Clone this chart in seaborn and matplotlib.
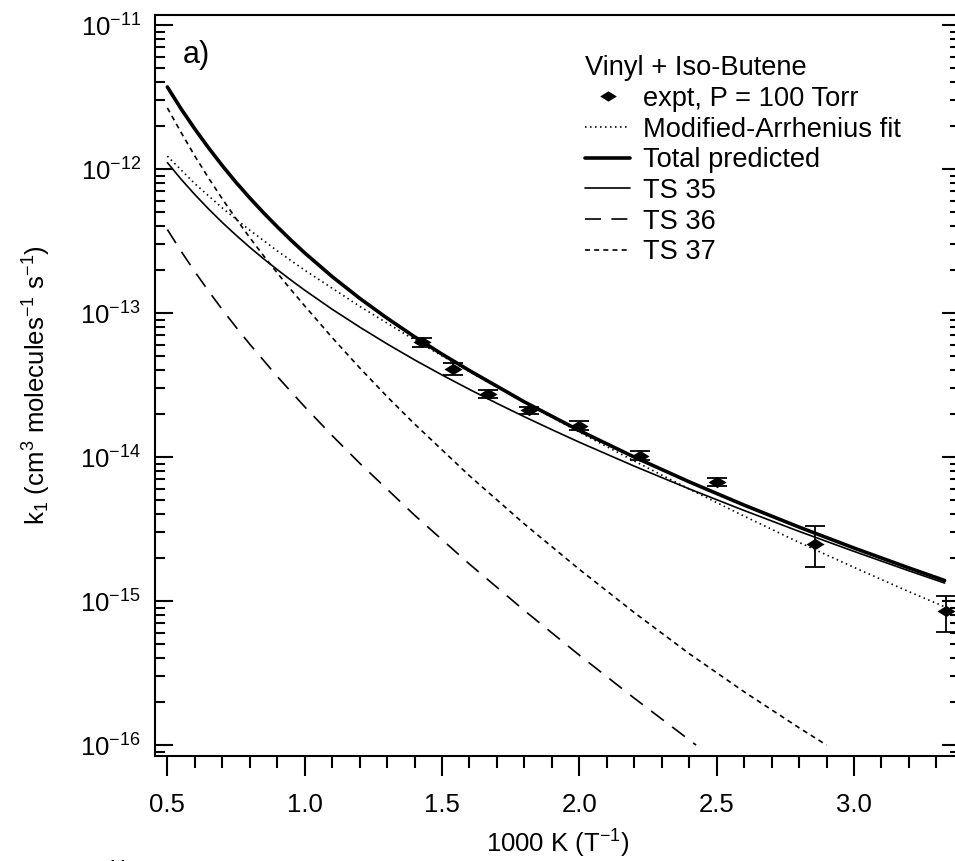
import numpy as np
import pandas as pd
import matplotlib
matplotlib.use("Agg")
import matplotlib.pyplot as plt
import seaborn as sns
from matplotlib.lines import Line2D
from matplotlib.ticker import (LogLocator, MultipleLocator, NullFormatter,
                               FormatStrFormatter)

# ---------------- data ----------------
x_total = [0.5, 0.55, 0.6, 0.65, 0.7, 0.75, 0.8, 0.85, 0.9, 0.95, 1.0, 1.1,
           1.2, 1.3, 1.4, 1.5, 1.6, 1.8, 2.0, 2.2, 2.4, 2.6, 2.8, 3.0, 3.2, 3.33]
k_total = [3.715e-12, 2.620e-12, 1.899e-12, 1.404e-12, 1.057e-12, 8.088e-13,
           6.304e-13, 4.977e-13, 3.978e-13, 3.211e-13, 2.618e-13, 1.792e-13,
           1.267e-13, 9.222e-14, 6.847e-14, 5.186e-14, 3.988e-14, 2.416e-14,
           1.528e-14, 1.000e-14, 6.731e-15, 4.639e-15, 3.264e-15, 2.336e-15,
           1.698e-15, 1.390e-15]

x_ts35 = [0.5, 0.55, 0.6, 0.65, 0.7, 0.75, 0.8, 0.85, 0.9, 0.95, 1.0, 1.1,
          1.2, 1.3, 1.4, 1.5, 1.6, 1.7, 1.8, 1.9, 2.0, 2.2, 2.4, 2.6, 2.8,
          3.0, 3.2, 3.33]
k_ts35 = [1.109e-12, 8.505e-13, 6.653e-13, 5.285e-13, 4.256e-13, 3.476e-13,
          2.864e-13, 2.387e-13, 2.004e-13, 1.694e-13, 1.442e-13, 1.063e-13,
          7.998e-14, 6.109e-14, 4.732e-14, 3.717e-14, 2.951e-14, 2.360e-14,
          1.905e-14, 1.550e-14, 1.268e-14, 8.650e-15, 6.012e-15, 4.256e-15,
          3.048e-15, 2.213e-15, 1.622e-15, 1.334e-15]

x_fit = [0.5, 0.6, 0.7, 0.8, 0.9, 1.0, 1.2, 1.4, 1.6, 1.8, 2.0, 2.2, 2.4,
         2.6, 2.8, 3.0, 3.2, 3.33]
k_fit = [1.230e-12, 7.922e-13, 5.370e-13, 3.764e-13, 2.705e-13, 1.986e-13,
         1.115e-13, 6.513e-14, 3.916e-14, 2.396e-14, 1.489e-14, 9.386e-15,
         5.998e-15, 3.890e-15, 2.555e-15, 1.714e-15, 1.162e-15, 9.129e-16]

x_ts36 = [0.5, 0.55, 0.6, 0.65, 0.7, 0.75, 0.8, 0.9, 1.0, 1.1, 1.2, 1.4,
          1.6, 1.8, 2.0, 2.2, 2.425]
k_ts36 = [3.802e-13, 2.687e-13, 1.939e-13, 1.422e-13, 1.058e-13, 7.980e-14,
          6.081e-14, 3.631e-14, 2.235e-14, 1.410e-14, 9.074e-15, 3.948e-15,
          1.806e-15, 8.594e-16, 4.211e-16, 2.116e-16, 1.000e-16]

x_ts37 = [0.5, 0.55, 0.6, 0.65, 0.7, 0.75, 0.8, 0.85, 0.9, 0.95, 1.0, 1.1,
          1.2, 1.3, 1.4, 1.6, 1.8, 2.0, 2.2, 2.4, 2.6, 2.8, 2.9]
k_ts37 = [2.661e-12, 1.797e-12, 1.233e-12, 8.670e-13, 6.209e-13, 4.526e-13,
          3.342e-13, 2.506e-13, 1.901e-13, 1.453e-13, 1.122e-13, 6.761e-14,
          4.169e-14, 2.630e-14, 1.698e-14, 7.413e-15, 3.428e-15, 1.660e-15,
          8.318e-16, 4.315e-16, 2.344e-16, 1.318e-16, 1.000e-16]

x_expt = [1.4286, 1.5385, 1.6667, 1.8182, 2.0, 2.2222, 2.5, 2.8571, 3.3333]
k_expt = [6.25e-14, 4.08e-14, 2.75e-14, 2.11e-14, 1.65e-14, 1.02e-14,
          6.73e-15, 2.50e-15, 8.47e-16]
k_expt_hi = [6.75e-14, 4.50e-14, 2.92e-14, 2.24e-14, 1.77e-14, 1.10e-14,
             7.20e-15, 3.30e-15, 1.09e-15]
k_expt_lo = [5.79e-14, 3.70e-14, 2.59e-14, 1.98e-14, 1.54e-14, 0.95e-14,
             6.30e-15, 1.72e-15, 6.12e-16]

legend_title = "Vinyl + Iso-Butene"
legend_labels = ["expt, P = 100 Torr", "Modified-Arrhenius fit",
                 "Total predicted", "TS 35", "TS 36", "TS 37"]

# ---------------- style ----------------
sns.set_theme(style="ticks", rc={
    "axes.edgecolor": "black", "axes.linewidth": 1.5,
    "text.color": "black", "axes.labelcolor": "black",
    "xtick.color": "black", "ytick.color": "black",
})
plt.rcParams["font.family"] = ["Liberation Sans", "DejaVu Sans"]
plt.rcParams["mathtext.fontset"] = "custom"
plt.rcParams["mathtext.rm"] = "Liberation Sans"
plt.rcParams["mathtext.it"] = "Liberation Sans:italic"
plt.rcParams["mathtext.bf"] = "Liberation Sans:bold"
plt.rcParams["mathtext.default"] = "regular"
plt.rcParams["axes.unicode_minus"] = False
plt.rcParams["lines.scale_dashes"] = False

ls_fit = (0, (1.1, 2.5))
ls_36 = (0, (11.5, 7.5))
ls_37 = (0, (3.6, 3.0))
diamond = [(-1, 0), (0, 0.62), (1, 0), (0, -0.62), (-1, 0)]

fig = plt.figure(figsize=(9.55, 8.61), dpi=100)
ax = fig.add_axes([155 / 955, 1 - 756 / 861, (960 - 155) / 955, (756 - 15) / 861])
ax.set_yscale("log")
ax.set_xlim(0.455, 3.386)
ax.set_ylim(8.395e-17, 1.175e-11)

# ---------------- curves ----------------
common = dict(ax=ax, color="black", estimator=None, sort=False, legend=False)
sns.lineplot(x=x_fit, y=k_fit, linewidth=1.2, linestyle=ls_fit, **common)
sns.lineplot(x=x_total, y=k_total, linewidth=2.6, **common)
sns.lineplot(x=x_ts35, y=k_ts35, linewidth=1.2, **common)
sns.lineplot(x=x_ts36, y=k_ts36, linewidth=1.2, linestyle=ls_36, **common)
sns.lineplot(x=x_ts37, y=k_ts37, linewidth=1.2, linestyle=ls_37, **common)

# ---------------- experimental points ----------------
ke = np.array(k_expt)
yerr = [ke - np.array(k_expt_lo), np.array(k_expt_hi) - ke]
ax.errorbar(x_expt, k_expt, yerr=yerr, fmt="none", ecolor="black",
            elinewidth=1.3, capsize=7, capthick=1.3, zorder=3)
sns.scatterplot(x=x_expt, y=k_expt, ax=ax, marker=diamond, s=170,
                color="black", edgecolor="black", linewidth=0, zorder=4,
                legend=False)

# ---------------- axes ----------------
ax.yaxis.set_major_locator(LogLocator(base=10, numticks=20))
ax.yaxis.set_minor_locator(LogLocator(base=10, subs=np.arange(2, 10), numticks=20))
ax.yaxis.set_minor_formatter(NullFormatter())
ax.xaxis.set_major_locator(MultipleLocator(0.5))
ax.xaxis.set_minor_locator(MultipleLocator(0.1))
ax.xaxis.set_major_formatter(FormatStrFormatter("%.1f"))

ax.tick_params(axis="y", which="major", direction="in", length=13, width=1.5,
               left=True, right=True, labelsize=18.5, pad=10)
ax.tick_params(axis="y", which="minor", direction="in", length=7.2, width=1.5,
               left=True, right=True)
ax.tick_params(axis="x", which="major", direction="out", length=14.5, width=1.5,
               bottom=True, top=False, labelsize=18.5, pad=12)
ax.tick_params(axis="x", which="minor", direction="out", length=8.5, width=1.5,
               bottom=True, top=False)
for s in ax.spines.values():
    s.set_linewidth(1.5)
    s.set_color("black")

ax.set_xlabel(r"1000 K (T$^{-1}$)", fontsize=18.5, labelpad=8)
ax.set_ylabel(r"k$_1$ (cm$^{3}$ molecules$^{-1}$ s$^{-1}$)", fontsize=18.5)
ax.yaxis.set_label_coords(-0.127, 0.5)

ax.text(0.035, 0.946, "a)", transform=ax.transAxes, fontsize=22,
        va="center", ha="left")

# ---------------- legend ----------------
handles = [
    Line2D([], [], marker=diamond, ls="none", color="black", markersize=12,
           markeredgewidth=0),
    Line2D([], [], color="black", lw=1.2, ls=ls_fit),
    Line2D([], [], color="black", lw=2.6),
    Line2D([], [], color="black", lw=1.2),
    Line2D([], [], color="black", lw=1.2, ls=ls_36),
    Line2D([], [], color="black", lw=1.2, ls=ls_37),
]
ax.legend(handles, legend_labels, title=legend_title, loc="upper left",
          bbox_to_anchor=(0.5345, 0.9455), frameon=False, fontsize=19.6,
          title_fontsize=19.6, handlelength=1.65, handletextpad=0.48,
          labelspacing=0.17, borderpad=0, borderaxespad=0, alignment="left")

# clipped exponent of the panel below (only its top shows)
fig.text(100 / 955, 0.002, "-11", fontsize=15, va="top", ha="left")

fig.savefig("out.png", dpi=100)
